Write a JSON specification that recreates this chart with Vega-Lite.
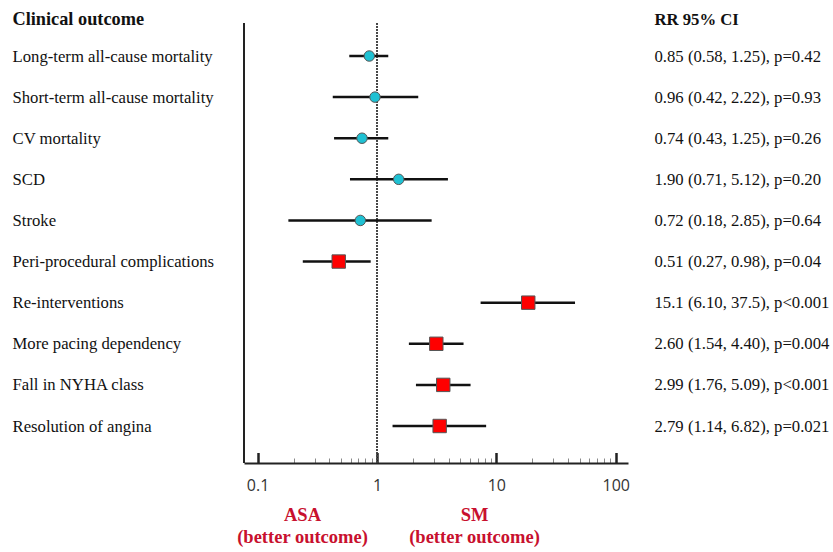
{
  "$schema": "https://vega.github.io/schema/vega-lite/v6.json",
  "width": 384,
  "height": 440,
  "autosize": "none",
  "padding": {"left": 244, "top": 23, "right": 205, "bottom": 89},
  "background": "white",
  "config": {"view": {"stroke": null}, "axis": {"grid": false}},
  "data": {
    "values": [
      {"outcome": "Long-term all-cause mortality", "rr": 0.862, "lo": 0.586, "hi": 1.243, "ci": "0.85 (0.58, 1.25), p=0.42", "sig": "no"},
      {"outcome": "Short-term all-cause mortality", "rr": 0.962, "lo": 0.426, "hi": 2.216, "ci": "0.96 (0.42, 2.22), p=0.93", "sig": "no"},
      {"outcome": "CV mortality", "rr": 0.749, "lo": 0.437, "hi": 1.243, "ci": "0.74 (0.43, 1.25), p=0.26", "sig": "no"},
      {"outcome": "SCD", "rr": 1.52, "lo": 0.594, "hi": 3.93, "ci": "1.90 (0.71, 5.12), p=0.20", "sig": "no"},
      {"outcome": "Stroke", "rr": 0.725, "lo": 0.181, "hi": 2.87, "ci": "0.72 (0.18, 2.85), p=0.64", "sig": "no"},
      {"outcome": "Peri-procedural complications", "rr": 0.478, "lo": 0.239, "hi": 0.886, "ci": "0.51 (0.27, 0.98), p=0.04", "sig": "yes"},
      {"outcome": "Re-interventions", "rr": 18.5, "lo": 7.38, "hi": 45.6, "ci": "15.1 (6.10, 37.5), p<0.001", "sig": "yes"},
      {"outcome": "More pacing dependency", "rr": 3.14, "lo": 1.85, "hi": 5.31, "ci": "2.60 (1.54, 4.40), p=0.004", "sig": "yes"},
      {"outcome": "Fall in NYHA class", "rr": 3.59, "lo": 2.12, "hi": 6.08, "ci": "2.99 (1.76, 5.09), p<0.001", "sig": "yes"},
      {"outcome": "Resolution of angina", "rr": 3.35, "lo": 1.35, "hi": 8.21, "ci": "2.79 (1.14, 6.82), p=0.021", "sig": "yes"}
    ]
  },
  "layer": [
    {
      "encoding": {
        "x": {
          "field": "rr",
          "type": "quantitative",
          "scale": {"type": "log", "domain": [0.0769, 126.7], "nice": false, "zero": false},
          "axis": {
            "values": [0.1, 0.2, 0.3, 0.4, 0.5, 0.6, 0.7, 0.8, 0.9, 1, 2, 3, 4, 5, 6, 7, 8, 9, 10, 20, 30, 40, 50, 60, 70, 80, 90, 100],
            "labelExpr": "abs(log(datum.value)/LN10 - round(log(datum.value)/LN10)) < 0.001 ? format(datum.value, '~g') : ''",
            "tickSize": {"condition": {"test": "abs(log(datum.value)/LN10 - round(log(datum.value)/LN10)) < 0.001", "value": -10.5}, "value": -5},
            "tickWidth": {"condition": {"test": "abs(log(datum.value)/LN10 - round(log(datum.value)/LN10)) < 0.001", "value": 2.5}, "value": 1},
            "tickColor": {"condition": {"test": "abs(log(datum.value)/LN10 - round(log(datum.value)/LN10)) < 0.001", "value": "#222222"}, "value": "#888888"},
            "domainColor": "#222222",
            "domainWidth": 2,
            "labelFont": "Open Sans",
            "labelFontSize": 16,
            "labelColor": "#333333",
            "labelPadding": 25,
            "labelFlush": false,
            "labelOverlap": false,
            "title": ["ASA", "(better outcome)"],
            "titleFont": "Liberation Serif",
            "titleFontSize": 18.5,
            "titleFontWeight": "bold",
            "titleColor": "#c8102e",
            "titleX": 58,
            "titleY": 57,
            "titleAlign": "center",
            "titleBaseline": "alphabetic",
            "titleLineHeight": 22
          }
        }
      },
      "layer": [
        {
          "mark": {"type": "rule", "color": "#222222", "strokeWidth": 2},
          "encoding": {"x": {"datum": 0.0769, "type": "quantitative"}}
        },
        {
          "mark": {"type": "rule", "color": "#444444", "strokeWidth": 1, "strokeDash": [1.5, 1.5]},
          "encoding": {"x": {"datum": 1, "type": "quantitative"}}
        },
        {
          "encoding": {
            "y": {
              "field": "outcome",
              "type": "nominal",
              "sort": null,
              "scale": {"type": "point", "range": [33, 403], "padding": 0},
              "axis": {
                "orient": "left",
                "domain": false,
                "ticks": false,
                "tickSize": 0,
                "labelAlign": "left",
                "labelBaseline": "middle",
                "labelPadding": 232,
                "labelFont": "Liberation Serif",
                "labelFontSize": 16.7,
                "labelColor": "#111111",
                "labelLimit": 0,
                "title": "Clinical outcome",
                "titleFont": "Liberation Serif",
                "titleFontSize": 18.3,
                "titleFontWeight": "bold",
                "titleColor": "#111111",
                "titleAngle": 0,
                "titleAlign": "left",
                "titleBaseline": "middle",
                "titleX": -232,
                "titleY": -4
              }
            }
          },
          "layer": [
            {
              "mark": {"type": "rule", "color": "#111111", "strokeWidth": 2.5},
              "encoding": {
                "x": {"field": "lo", "type": "quantitative"},
                "x2": {"field": "hi"}
              }
            },
            {
              "mark": {"type": "point", "filled": true, "opacity": 1, "stroke": "#555555", "strokeWidth": 1},
              "encoding": {
                "x": {"field": "rr", "type": "quantitative"},
                "shape": {"field": "sig", "type": "nominal", "scale": {"domain": ["no", "yes"], "range": ["circle", "square"]}, "legend": null},
                "color": {"field": "sig", "type": "nominal", "scale": {"domain": ["no", "yes"], "range": ["#1fc1d3", "#ff0000"]}, "legend": null},
                "size": {"field": "sig", "type": "nominal", "scale": {"domain": ["no", "yes"], "range": [110, 180]}, "legend": null}
              }
            }
          ]
        }
      ]
    },
    {
      "mark": {"type": "point", "opacity": 0},
      "encoding": {
        "x": {
          "field": "rr",
          "type": "quantitative",
          "scale": {"type": "log", "domain": [0.0769, 126.7], "nice": false, "zero": false},
          "axis": {
            "orient": "bottom",
            "domain": false,
            "ticks": false,
            "labels": false,
            "title": ["SM", "(better outcome)"],
            "titleFont": "Liberation Serif",
            "titleFontSize": 18.5,
            "titleFontWeight": "bold",
            "titleColor": "#c8102e",
            "titleX": 230,
            "titleY": 57,
            "titleAlign": "center",
            "titleBaseline": "alphabetic",
            "titleLineHeight": 22
          }
        },
        "y": {
          "field": "ci",
          "type": "nominal",
          "sort": null,
          "scale": {"type": "point", "range": [33, 403], "padding": 0},
          "axis": {
            "orient": "right",
            "domain": false,
            "ticks": false,
            "tickSize": 0,
            "labelAlign": "left",
            "labelBaseline": "middle",
            "labelPadding": 26,
            "labelFont": "Liberation Serif",
            "labelFontSize": 16.7,
            "labelColor": "#111111",
            "labelLimit": 0,
            "title": "RR 95% CI",
            "titleFont": "Liberation Serif",
            "titleFontSize": 16.7,
            "titleFontWeight": "bold",
            "titleColor": "#111111",
            "titleAngle": 0,
            "titleAlign": "left",
            "titleBaseline": "middle",
            "titleX": 26,
            "titleY": -4
          }
        }
      }
    }
  ],
  "resolve": {"scale": {"x": "independent", "y": "independent"}}
}
